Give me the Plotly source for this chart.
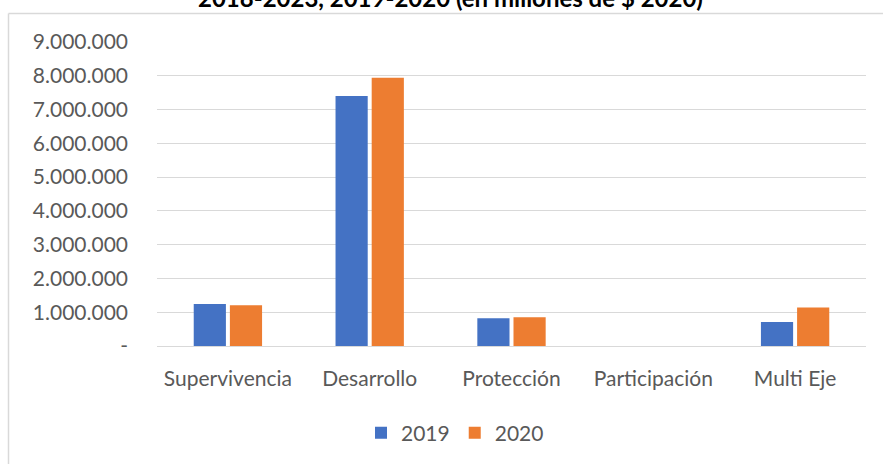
import plotly.graph_objects as go

categories = ["Supervivencia", "Desarrollo", "Protección", "Participación", "Multi Eje"]
values_2019 = [1240000, 7400000, 820000, 0, 710000]
values_2020 = [1210000, 7940000, 850000, 0, 1140000]
series_names = ["2019", "2020"]
tick_values = [0, 1000000, 2000000, 3000000, 4000000, 5000000, 6000000, 7000000, 8000000, 9000000]
tick_labels = ["-", "1.000.000", "2.000.000", "3.000.000", "4.000.000", "5.000.000",
               "6.000.000", "7.000.000", "8.000.000", "9.000.000"]
title_text = "2018-2023, 2019-2020 (en millones de $ 2020)"

W, H = 883, 464
X0, X1, Y0, Y1 = 157, 866, 42, 347
L, R, T, B = X0, W - X1, Y0, H - Y1
pw, ph = X1 - X0, Y1 - Y0

def px_x(x):
    return (x - X0) / pw

def px_y(y):
    return (Y1 - y) / ph

FONT = "Lato, Calibri, sans-serif"
GREY = "#595959"

fig = go.Figure()
fig.add_trace(go.Bar(name=series_names[0], x=categories, y=values_2019,
                     marker=dict(color="#4472C4", line=dict(width=0))))
fig.add_trace(go.Bar(name=series_names[1], x=categories, y=values_2020,
                     marker=dict(color="#ED7D31", line=dict(width=0))))

fig.update_layout(
    width=W, height=H,
    margin=dict(l=L, r=R, t=T, b=B, pad=0),
    paper_bgcolor="white", plot_bgcolor="white",
    barmode="group", bargap=0.49, bargroupgap=0.11,
    font=dict(family=FONT, size=21, color=GREY),
    showlegend=True,
    legend=dict(orientation="h", x=px_x(455), xanchor="center",
                y=px_y(433), yanchor="middle",
                font=dict(family=FONT, size=21, color=GREY),
                itemwidth=30, tracegroupgap=0),
    xaxis=dict(showgrid=False, showline=False, ticks="", ticklabelstandoff=18,
               tickfont=dict(size=21, color=GREY)),
    yaxis=dict(range=[0, 9000000], tickvals=tick_values, ticktext=tick_labels,
               showgrid=True, gridcolor="#D9D9D9", gridwidth=1,
               zeroline=True, zerolinecolor="#D9D9D9", zerolinewidth=1,
               showline=False, ticks="", ticklabelstandoff=28,
               tickfont=dict(size=21, color=GREY)),
    annotations=[dict(text="<b>" + title_text + "</b>", xref="paper", yref="paper",
                      x=px_x(450), y=px_y(-3), xanchor="center", yanchor="middle",
                      showarrow=False, font=dict(family=FONT, size=24, color="black"))],
    shapes=[
        dict(type="line", xref="paper", yref="paper", x0=px_x(8.5), x1=px_x(890),
             y0=px_y(13.5), y1=px_y(13.5), line=dict(color="#D9D9D9", width=1.5)),
        dict(type="line", xref="paper", yref="paper", x0=px_x(8.5), x1=px_x(8.5),
             y0=px_y(13.5), y1=px_y(470), line=dict(color="#D9D9D9", width=1.5)),
    ],
)

fig.write_html("out.html", config={"displayModeBar": False},
               post_script="document.body.style.margin='0';")
